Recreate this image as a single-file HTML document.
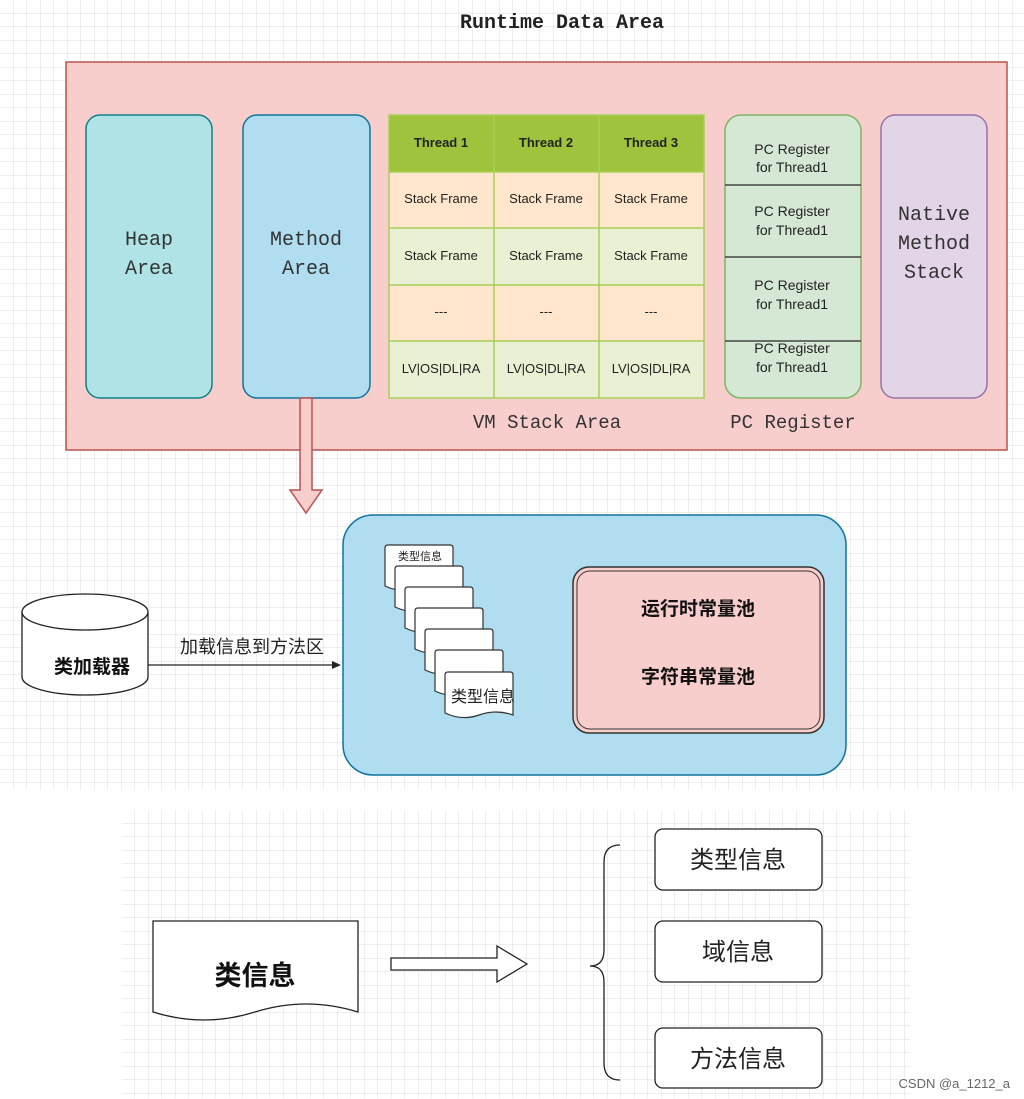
<!DOCTYPE html>
<html><head><meta charset="utf-8"><style>
body{margin:0;background:#fff}
svg{display:block}
.m{font-family:"Liberation Mono",monospace}
.s{font-family:"Liberation Sans","Noto Sans CJK SC",sans-serif}
</style></head><body>
<svg width="1024" height="1099" viewBox="0 0 1024 1099" xmlns="http://www.w3.org/2000/svg">
<defs>
<pattern id="g" width="13.5" height="13.5" patternUnits="userSpaceOnUse"><path d="M13.5 0V13.5H0" fill="none" stroke="#dedede" stroke-width="1"/></pattern>
</defs>
<rect x="0" y="0" width="1024" height="790" fill="url(#g)"/>
<rect x="122" y="810" width="788" height="288" fill="url(#g)"/>
<text x="562" y="28" text-anchor="middle" class="m" font-size="20" font-weight="bold" fill="#222">Runtime Data Area</text>
<rect x="66" y="62" width="941" height="388" fill="#f8cecc" stroke="#b85450" stroke-width="1.5"/>
<rect x="86" y="115" width="126" height="283" rx="14" fill="#b0e3e6" stroke="#0e8088" stroke-width="1.5"/>
<text class="m" font-size="20" fill="#333" text-anchor="middle"><tspan x="149" y="245">Heap</tspan><tspan x="149" y="274">Area</tspan></text>
<rect x="243" y="115" width="127" height="283" rx="14" fill="#b1ddf0" stroke="#10739e" stroke-width="1.5"/>
<text class="m" font-size="20" fill="#333" text-anchor="middle"><tspan x="306" y="245">Method</tspan><tspan x="306" y="274">Area</tspan></text>
<rect x="389" y="115" width="315" height="57" fill="#9fc33c"/>
<rect x="389" y="172" width="315" height="56" fill="#ffe6cc"/>
<rect x="389" y="228" width="315" height="57" fill="#e9f0d4"/>
<rect x="389" y="285" width="315" height="56" fill="#ffe6cc"/>
<rect x="389" y="341" width="315" height="57" fill="#e9f0d4"/>
<g stroke="#a8cf5a" stroke-width="1.5" fill="none">
<rect x="389" y="115" width="315" height="283"/>
<path d="M494 115V398M599 115V398M389 172H704M389 228H704M389 285H704M389 341H704"/>
</g>
<g class="s" font-size="13" fill="#222" text-anchor="middle">
<text x="441" y="147" font-weight="bold">Thread 1</text><text x="546" y="147" font-weight="bold">Thread 2</text><text x="651" y="147" font-weight="bold">Thread 3</text>
<text x="441" y="203">Stack Frame</text><text x="546" y="203">Stack Frame</text><text x="651" y="203">Stack Frame</text>
<text x="441" y="260">Stack Frame</text><text x="546" y="260">Stack Frame</text><text x="651" y="260">Stack Frame</text>
<text x="441" y="316">---</text><text x="546" y="316">---</text><text x="651" y="316">---</text>
<text x="441" y="373">LV|OS|DL|RA</text><text x="546" y="373">LV|OS|DL|RA</text><text x="651" y="373">LV|OS|DL|RA</text>
</g>
<text x="547" y="428" text-anchor="middle" class="m" font-size="19" fill="#333">VM Stack Area</text>
<rect x="725" y="115" width="136" height="283" rx="16" fill="#d5e8d4" stroke="#82b366" stroke-width="1.5"/>
<path d="M725 185H861M725 257H861M725 341H861" stroke="#444" stroke-width="1.5"/>
<g class="s" font-size="14" fill="#222" text-anchor="middle">
<text x="792" y="154">PC Register</text><text x="792" y="172">for  Thread1</text>
<text x="792" y="216">PC Register</text><text x="792" y="235">for  Thread1</text>
<text x="792" y="290">PC Register</text><text x="792" y="309">for  Thread1</text>
<text x="792" y="353">PC Register</text><text x="792" y="372">for  Thread1</text>
</g>
<text x="793" y="428" text-anchor="middle" class="m" font-size="19" fill="#333">PC Register</text>
<rect x="881" y="115" width="106" height="283" rx="14" fill="#e1d5e7" stroke="#9673a6" stroke-width="1.5"/>
<text class="m" font-size="20" fill="#333" text-anchor="middle"><tspan x="934" y="220">Native</tspan><tspan x="934" y="249">Method</tspan><tspan x="934" y="278">Stack</tspan></text>
<path d="M300 398H312V490H322L306 513L290 490H300Z" fill="#f8cecc" stroke="#b85450" stroke-width="1.5"/>
<rect x="343" y="515" width="503" height="260" rx="30" fill="#b1ddf0" stroke="#10739e" stroke-width="1.5"/>
<rect x="573" y="567" width="251" height="166" rx="16" fill="#f8cecc" stroke="#333" stroke-width="1.5"/>
<rect x="577" y="571" width="243" height="158" rx="13" fill="none" stroke="#333" stroke-width="1"/>
<text x="698" y="615" text-anchor="middle" class="s" font-size="19" font-weight="bold" fill="#111">运行时常量池</text>
<text x="698" y="683" text-anchor="middle" class="s" font-size="19" font-weight="bold" fill="#111">字符串常量池</text>
<g fill="#fff" stroke="#333" stroke-width="1.2">
<path d="M385 548q0-3 3-3h62q3 0 3 3v40q-17-6-34 0t-34-2z"/>
<path d="M395 569q0-3 3-3h62q3 0 3 3v40q-17-6-34 0t-34-2z"/>
<path d="M405 590q0-3 3-3h62q3 0 3 3v40q-17-6-34 0t-34-2z"/>
<path d="M415 611q0-3 3-3h62q3 0 3 3v40q-17-6-34 0t-34-2z"/>
<path d="M425 632q0-3 3-3h62q3 0 3 3v40q-17-6-34 0t-34-2z"/>
<path d="M435 653q0-3 3-3h62q3 0 3 3v40q-17-6-34 0t-34-2z"/>
<path d="M445 675q0-3 3-3h62q3 0 3 3v40q-17-6-34 0t-34-2z"/>
</g>
<text x="420" y="560" text-anchor="middle" class="s" font-size="11" fill="#222">类型信息</text>
<text x="483" y="702" text-anchor="middle" class="s" font-size="16" fill="#222">类型信息</text>
<g fill="#fff" stroke="#222" stroke-width="1.3">
<path d="M22 612V677A63 18 0 0 0 148 677V612"/>
<ellipse cx="85" cy="612" rx="63" ry="18"/>
</g>
<text x="92" y="673" text-anchor="middle" class="s" font-size="19" font-weight="bold" fill="#111">类加载器</text>
<path d="M148 665H335" stroke="#222" stroke-width="1.2"/>
<path d="M341 665L332 661V669Z" fill="#222"/>
<text x="252" y="653" text-anchor="middle" class="s" font-size="18" fill="#222">加载信息到方法区</text>
<path d="M153 921H358V1012Q306 996 255 1012T153 1012Z" fill="#fff" stroke="#222" stroke-width="1.3"/>
<text x="255" y="985" text-anchor="middle" class="s" font-size="27" font-weight="bold" fill="#111">类信息</text>
<path d="M391 958H497V946L527 964L497 982V970H391Z" fill="#fff" stroke="#222" stroke-width="1.3"/>
<path d="M620 845Q604 845 604 862V950Q604 966 590 966Q604 966 604 982V1063Q604 1080 620 1080" fill="none" stroke="#222" stroke-width="1.3"/>
<g fill="#fff" stroke="#222" stroke-width="1.3">
<rect x="655" y="829" width="167" height="61" rx="8"/>
<rect x="655" y="921" width="167" height="61" rx="8"/>
<rect x="655" y="1028" width="167" height="60" rx="8"/>
</g>
<g class="s" font-size="24" fill="#222" text-anchor="middle">
<text x="738" y="868">类型信息</text><text x="738" y="960">域信息</text><text x="738" y="1067">方法信息</text>
</g>
<text x="1010" y="1088" text-anchor="end" class="s" font-size="13" fill="#666">CSDN @a_1212_a</text>
</svg>
</body></html>
